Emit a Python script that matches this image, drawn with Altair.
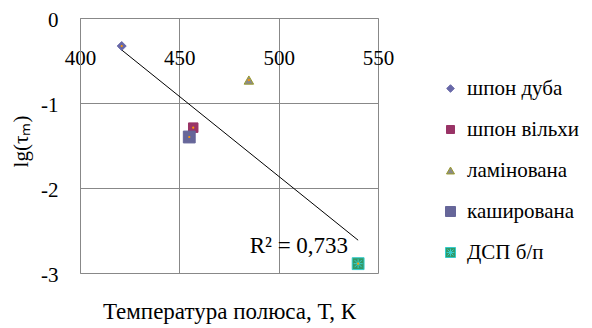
import altair as alt
import pandas as pd

series = ["шпон дуба", "шпон вільхи", "ламінована", "каширована", "ДСП б/п"]
temps = [421, 457, 485, 455, 540]
lg_tau = [-0.33, -1.29, -0.73, -1.40, -2.89]
x_ticks = [400, 450, 500, 550]
y_ticks = [0, -1, -2, -3]
r2_text = "R² = 0,733"

fills = ["#6868a8", "#993366", "#8a8a8a", "#666699", "#339966"]
strokes = ["#6868a8", "#993366", "#9a9a2a", "#666699", "#33cccc"]
diamond = "M0,-0.95L0.95,0L0,0.95L-0.95,0Z"
small_sq = "M-1,-1H1V1H-1Z"
big_sq = "M-1.25,-1.25H1.25V1.25H-1.25Z"
star_sq = ("M-1.25,-1.25H1.25V1.25H-1.25Z M-0.95,0H0.95 M0,-0.95V0.95 "
           "M-0.75,-0.75L0.75,0.75 M-0.75,0.75L0.75,-0.75")
shapes = [diamond, small_sq, "triangle-up", big_sq, star_sq]

df = pd.DataFrame({"series": series, "T": temps, "lg": lg_tau})

FONT = "Liberation Serif"
FS = 21
GRID = "#888888"

xs = alt.Scale(domain=[400, 550], nice=False, zero=False)
ys = alt.Scale(domain=[-3, 0], nice=False, zero=False)

x_enc = alt.X("T:Q", scale=xs, axis=alt.Axis(
    orient="top", values=x_ticks, ticks=False, tickSize=0, labelPadding=-40,
    labelBaseline="middle", labelFlush=False, labelOverlap=False,
    labelFont=FONT, labelFontSize=FS, labelColor="black",
    grid=True, gridColor=GRID, domainColor=GRID,
    title="Температура полюса, Т, К", titleX=149, titleY=293,
    titleFont=FONT, titleFontSize=23, titleFontWeight="normal", titleColor="black",
    titleBaseline="middle", titleAlign="center", titleAngle=0))
y_enc = alt.Y("lg:Q", scale=ys, axis=alt.Axis(
    values=y_ticks, ticks=False, tickSize=0, labelPadding=22, labelOffset=2,
    labelFont=FONT, labelFontSize=FS, labelColor="black",
    labelExpr="datum.value == 0 ? '0' : '-' + abs(datum.value)",
    grid=True, gridColor=GRID, domainColor=GRID,
    title="lg(τₘ)", titleX=-59, titleY=123, titleAngle=270,
    titleFont=FONT, titleFontSize=FS, titleFontWeight="normal", titleColor="black",
    titleBaseline="middle", titleAlign="center"))

leg = dict(title=None, orient="none", legendX=360, legendY=60,
           labelFont=FONT, labelFontSize=21, labelColor="black",
           symbolSize=64, symbolStrokeWidth=1, rowPadding=19, labelOffset=6)

base = alt.Chart(df)

trend = base.transform_regression("T", "lg").mark_line(
    color="black", strokeWidth=1).encode(x=x_enc, y=y_enc)

r2 = base.transform_regression("T", "lg").transform_joinaggregate(
    maxT="max(T)").transform_filter("datum.T == datum.maxT").mark_text(
    text=r2_text, align="right", baseline="alphabetic", dx=-10, dy=13,
    font=FONT, fontSize=23, color="black").encode(x="T:Q", y="lg:Q")

points = base.mark_point(filled=True, opacity=1, strokeWidth=1, size=90).encode(
    x="T:Q", y="lg:Q",
    shape=alt.Shape("series:N", scale=alt.Scale(domain=series, range=shapes),
                    legend=alt.Legend(**leg)),
    fill=alt.Fill("series:N", scale=alt.Scale(domain=series, range=fills),
                  legend=alt.Legend(**leg)),
    stroke=alt.Stroke("series:N", scale=alt.Scale(domain=series, range=strokes),
                      legend=alt.Legend(**leg)),
)

dots = base.mark_circle(size=5, color="#ff9900", opacity=1).encode(
    x="T:Q", y="lg:Q")

chart = alt.layer(trend, points, dots, r2).properties(
    width=298, height=255,
    autosize=alt.AutoSizeParams(type="none"),
    padding={"left": 72, "top": 10, "right": 206, "bottom": 52},
).configure_view(stroke=None).configure_axis(
    labelFont=FONT, labelFontSize=FS, labelColor="black",
    titleFont=FONT, titleFontSize=FS, titleColor="black", titleFontWeight="normal",
).configure_legend(
    labelFont=FONT, labelFontSize=21, labelColor="black",
)

chart.save("out.html", embed_options={"renderer": "svg", "actions": False})
